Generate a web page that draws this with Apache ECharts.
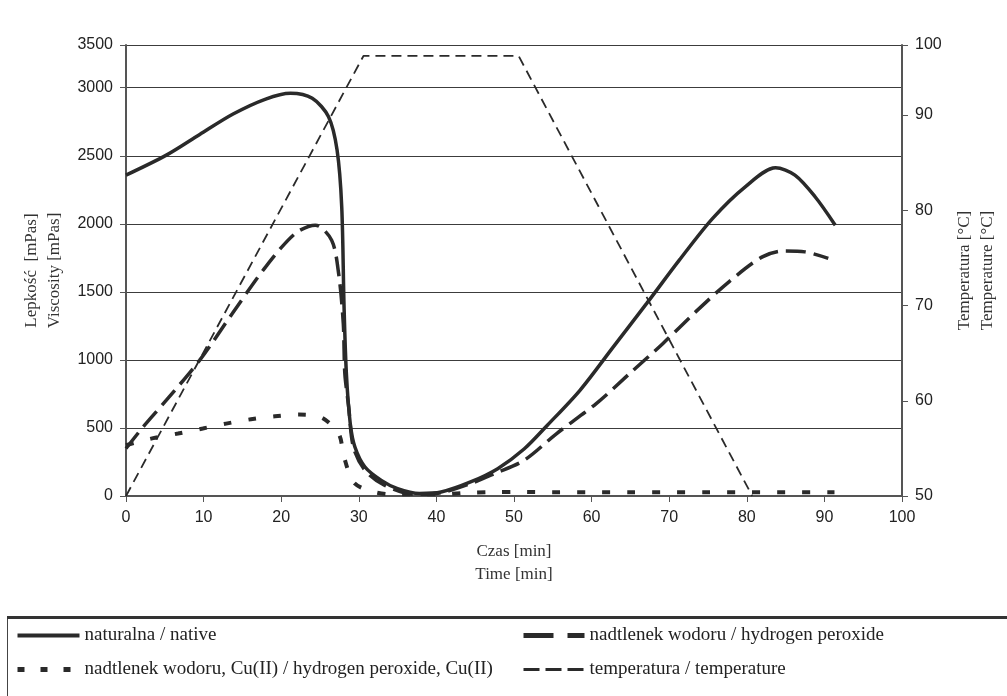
<!DOCTYPE html>
<html>
<head>
<meta charset="utf-8">
<script src="https://cdn.jsdelivr.net/npm/echarts@6/dist/echarts.min.js"></script>
<style>html,body{margin:0;padding:0;background:#fff;}#c{width:1007px;height:696px;}</style>
</head>
<body>
<div id="c"></div>
<script>
// ---- data ----
var seriesNames = ['naturalna / native', 'nadtlenek wodoru / hydrogen peroxide', 'nadtlenek wodoru, Cu(II) / hydrogen peroxide, Cu(II)', 'temperatura / temperature'];

var natX = [0, 5.2, 9.5, 13.8, 18.0, 21.2, 24.0, 26.1, 27.2, 27.8, 28.1, 28.4, 28.9, 29.5, 30.8, 32.9, 35.0, 37.8, 40.6, 44.4, 47.9, 51.3, 54.3, 58.5, 62.8, 67.1, 71.3, 75.6, 79.8, 83.7, 86.2, 88.8, 91.4];
var natY = [2358, 2505, 2657, 2807, 2917, 2959, 2922, 2787, 2542, 2125, 1390, 900, 532, 360, 213, 115, 54, 18, 29, 103, 201, 345, 520, 777, 1096, 1415, 1733, 2040, 2272, 2412, 2358, 2199, 1990];

var perX = [0, 2.2, 5.2, 9.5, 13.7, 18.0, 21.8, 24.4, 26.5, 27.4, 28.0, 28.2, 28.7, 29.3, 30.8, 33.3, 37.2, 40.6, 44.4, 47.5, 51.3, 55.5, 60.6, 64.9, 69.2, 73.4, 77.7, 82.0, 84.9, 87.5, 90.5];
var perY = [349, 507, 704, 998, 1341, 1684, 1929, 1990, 1880, 1635, 1268, 900, 654, 360, 189, 79, 12, 25, 91, 165, 262, 459, 679, 900, 1121, 1353, 1574, 1757, 1801, 1794, 1746];

var cuX = [0, 3.5, 6.7, 9.9, 12.9, 16.1, 19.2, 22.3, 25.2, 27.4, 28.1, 29.3, 31.2, 34.2, 40.6, 43.6, 47.0, 50.6, 55, 60, 65, 70, 75, 80, 85, 91.3];
var cuY = [373, 425, 459, 496, 532, 564, 586, 598, 576, 459, 287, 103, 42, 12, 12, 22, 28, 30, 28, 28, 28, 28, 28, 28, 28, 28];

var tempX = [0, 30.6, 50.6, 80.7];
var tempY = [50, 96.2, 96.2, 50];

var xTicks = [0, 10, 20, 30, 40, 50, 60, 70, 80, 90, 100];
var leftTopLabel = '3500';
var rightTopLabel = '100';

function pairs(xs, ys) { return xs.map(function (x, i) { return [x, ys[i]]; }); }

var lineColor = '#2a2a2a';
var legendText = { fontFamily: 'Liberation Serif', fontSize: 19, color: '#222' };
var chart = echarts.init(document.getElementById('c'));
chart.setOption({
  animation: false,
  backgroundColor: '#fff',
  grid: { left: 126, right: 100, top: 45, bottom: 200, containLabel: false },
  xAxis: {
    type: 'value', min: 0, max: 100, interval: 10,
    name: 'Czas [min]\nTime [min]', nameLocation: 'middle', nameGap: 44,
    nameTextStyle: { fontFamily: 'Liberation Serif', fontSize: 17, lineHeight: 23, color: '#333' },
    axisLine: { show: true, lineStyle: { color: '#555', width: 2 } },
    axisTick: { show: true, inside: false, length: 6, lineStyle: { color: '#555', width: 1 } },
    axisLabel: { fontFamily: 'Liberation Sans', fontSize: 16, color: '#222', margin: 14,
      formatter: function (v) { return xTicks.indexOf(v) >= 0 ? String(v) : ''; } },
    splitLine: { show: false }
  },
  yAxis: [{
    type: 'value', min: 0, max: 3314, interval: 500, position: 'left',
    name: 'Lepkość  [mPas]\nViscosity [mPas]', nameLocation: 'middle', nameRotate: 90, nameGap: 55,
    nameTextStyle: { fontFamily: 'Liberation Serif', fontSize: 17, lineHeight: 23, color: '#333' },
    axisLine: { show: true, lineStyle: { color: '#555', width: 2 } },
    axisTick: { show: true, inside: false, length: 6, lineStyle: { color: '#555', width: 1 } },
    axisLabel: { fontFamily: 'Liberation Sans', fontSize: 16, color: '#222', margin: 13,
      formatter: function (v) { return v > 3200 ? leftTopLabel : String(v); } },
    splitLine: { show: true, lineStyle: { color: '#3c3c3c', width: 1 } }
  }, {
    type: 'value', min: 50, max: 97.35, interval: 10, position: 'right',
    name: 'Temperatura [°C]\nTemperature [°C]', nameLocation: 'middle', nameRotate: 90, nameGap: 51,
    nameTextStyle: { fontFamily: 'Liberation Serif', fontSize: 17, lineHeight: 23, color: '#333' },
    axisLine: { show: true, lineStyle: { color: '#555', width: 2 } },
    axisTick: { show: true, inside: false, length: 6, lineStyle: { color: '#555', width: 1 } },
    axisLabel: { fontFamily: 'Liberation Sans', fontSize: 16, color: '#222', margin: 13,
      formatter: function (v) { return v > 95 ? rightTopLabel : String(v); } },
    splitLine: { show: false }
  }],
  legend: [{
    orient: 'vertical', left: 10, top: 621, itemWidth: 62, itemHeight: 14, itemGap: 15,
    itemStyle: { opacity: 0 },
    data: [
      { name: seriesNames[0], lineStyle: { width: 4, type: 'solid' } },
      { name: seriesNames[2], lineStyle: { width: 5, type: [7, 16] } }
    ],
    textStyle: legendText
  }, {
    orient: 'vertical', left: 516, top: 621, itemWidth: 61, itemHeight: 14, itemGap: 15,
    itemStyle: { opacity: 0 },
    data: [
      { name: seriesNames[1], lineStyle: { width: 5, type: [30, 14] } },
      { name: seriesNames[3], lineStyle: { width: 3, type: [16, 6] } }
    ],
    textStyle: legendText
  }],
  graphic: [
    { type: 'rect', silent: true, shape: { x: 7.5, y: 617.5, width: 1010, height: 100 },
      style: { fill: 'none', stroke: '#444', lineWidth: 1 } },
    { type: 'line', silent: true, shape: { x1: 7, y1: 617.5, x2: 1007, y2: 617.5 },
      style: { stroke: '#333', lineWidth: 3 } }
  ],
  series: [{
    name: seriesNames[0], type: 'line', data: pairs(natX, natY), symbol: 'none',
    smooth: 0.3,
    lineStyle: { color: lineColor, width: 3.5 }, itemStyle: { color: lineColor }, z: 4
  }, {
    name: seriesNames[1], type: 'line', data: pairs(perX, perY), symbol: 'none',
    smooth: 0.3,
    lineStyle: { color: lineColor, width: 3.5, type: [20, 8] }, itemStyle: { color: lineColor }, z: 3
  }, {
    name: seriesNames[2], type: 'line', data: pairs(cuX, cuY), symbol: 'none',
    smooth: 0.3,
    lineStyle: { color: lineColor, width: 4, type: [8, 17] }, itemStyle: { color: lineColor }, z: 3
  }, {
    name: seriesNames[3], type: 'line', yAxisIndex: 1, data: pairs(tempX, tempY), symbol: 'none',
    lineStyle: { color: lineColor, width: 1.8, type: [10, 6] }, itemStyle: { color: lineColor }, z: 2
  }]
});
</script>
</body>
</html>
